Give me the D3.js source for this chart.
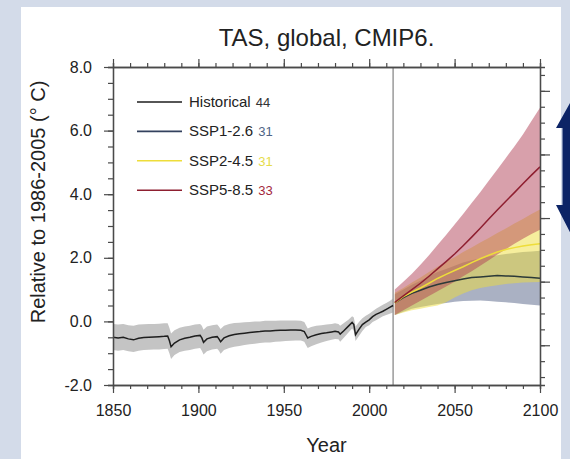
<!DOCTYPE html>
<html>
<head>
<meta charset="utf-8">
<script src="https://cdn.jsdelivr.net/npm/d3@7"></script>
<style>
  body { margin: 0; background: #d3dbe9; }
  svg { display: block; font-family: "Liberation Sans", Arial, sans-serif; }
</style>
</head>
<body>
<div id="vis"></div>
<script>
const FRAME_WIDTH = 570;
const FRAME_HEIGHT = 459;
const MARGINS = {left: 113, right: 30, top: 67, bottom: 74};

// historical run, 1850-2014
const histYears = [1850,1853,1856,1859,1862,1865,1868,1871,1874,1877,1880,1882,1883,1884,1886,1889,1892,1895,1898,1901,1902,1903,1905,1908,1911,1912,1913,1915,1918,1921,1924,1927,1930,1933,1936,1939,1942,1945,1948,1951,1954,1957,1960,1962,1963,1964,1966,1969,1972,1975,1978,1980,1982,1983,1985,1988,1990,1991,1992,1994,1996,1998,2000,2002,2004,2006,2008,2010,2012,2014];
const histMean = [-0.50,-0.52,-0.50,-0.55,-0.58,-0.53,-0.51,-0.50,-0.49,-0.48,-0.47,-0.46,-0.60,-0.80,-0.68,-0.58,-0.53,-0.50,-0.46,-0.44,-0.52,-0.66,-0.55,-0.50,-0.48,-0.55,-0.64,-0.52,-0.45,-0.41,-0.39,-0.37,-0.35,-0.33,-0.32,-0.30,-0.30,-0.29,-0.28,-0.28,-0.27,-0.27,-0.28,-0.32,-0.42,-0.52,-0.47,-0.42,-0.38,-0.36,-0.33,-0.31,-0.33,-0.40,-0.30,-0.14,-0.03,-0.10,-0.42,-0.25,-0.10,-0.02,0.05,0.15,0.22,0.27,0.32,0.38,0.44,0.50];
const histHigh = [-0.08,-0.10,-0.08,-0.12,-0.14,-0.10,-0.09,-0.08,-0.08,-0.07,-0.06,-0.06,-0.20,-0.38,-0.28,-0.20,-0.16,-0.14,-0.10,-0.08,-0.14,-0.26,-0.16,-0.12,-0.10,-0.16,-0.24,-0.14,-0.08,-0.05,-0.04,-0.03,-0.02,0.00,0.00,0.02,0.02,0.02,0.03,0.03,0.03,0.03,0.02,-0.02,-0.12,-0.22,-0.18,-0.14,-0.12,-0.10,-0.08,-0.06,-0.08,-0.14,-0.06,0.06,0.16,0.12,-0.16,-0.02,0.10,0.18,0.24,0.32,0.40,0.46,0.52,0.58,0.64,0.72];
const histLow = [-0.90,-0.92,-0.90,-0.94,-0.96,-0.92,-0.90,-0.89,-0.88,-0.88,-0.87,-0.86,-1.00,-1.18,-1.06,-0.96,-0.92,-0.90,-0.86,-0.84,-0.92,-1.04,-0.94,-0.88,-0.86,-0.92,-1.02,-0.90,-0.84,-0.80,-0.77,-0.74,-0.72,-0.70,-0.68,-0.66,-0.66,-0.64,-0.63,-0.62,-0.61,-0.60,-0.60,-0.64,-0.74,-0.84,-0.78,-0.72,-0.66,-0.62,-0.58,-0.55,-0.56,-0.64,-0.52,-0.34,-0.22,-0.30,-0.62,-0.46,-0.30,-0.18,-0.12,-0.02,0.04,0.10,0.16,0.20,0.24,0.28];

// scenario runs, 2015-2100
const projYears = [2015,2020,2025,2030,2035,2040,2045,2050,2055,2060,2065,2070,2075,2080,2085,2090,2095,2100];
const ssp126Mean = [0.58,0.75,0.88,0.98,1.08,1.16,1.22,1.28,1.33,1.38,1.40,1.42,1.44,1.43,1.42,1.40,1.38,1.36];
const ssp126High = [0.85,1.00,1.15,1.28,1.42,1.55,1.65,1.75,1.85,1.92,1.98,2.04,2.08,2.12,2.15,2.18,2.20,2.22];
const ssp126Low = [0.20,0.30,0.40,0.45,0.50,0.55,0.58,0.62,0.64,0.65,0.66,0.64,0.62,0.60,0.58,0.55,0.52,0.50];
const ssp245Mean = [0.58,0.78,0.92,1.05,1.20,1.35,1.48,1.60,1.72,1.85,1.97,2.08,2.18,2.26,2.32,2.37,2.41,2.44];
const ssp245High = [0.90,1.05,1.22,1.38,1.55,1.72,1.88,2.02,2.18,2.32,2.48,2.62,2.78,2.92,3.08,3.22,3.38,3.52];
const ssp245Low = [0.20,0.28,0.35,0.40,0.45,0.50,0.60,0.75,0.88,0.98,1.05,1.10,1.14,1.18,1.20,1.22,1.23,1.24];
const ssp585Mean = [0.60,0.80,1.00,1.20,1.42,1.65,1.88,2.12,2.38,2.65,2.93,3.22,3.50,3.78,4.05,4.33,4.60,4.86];
const ssp585High = [1.00,1.25,1.50,1.78,2.08,2.40,2.72,3.05,3.38,3.72,4.06,4.42,4.78,5.14,5.50,5.88,6.30,6.72];
const ssp585Low = [0.20,0.35,0.50,0.65,0.80,0.95,1.10,1.25,1.42,1.58,1.75,1.92,2.10,2.27,2.44,2.60,2.75,2.88];

// legend
const legendNames = ["Historical", "SSP1-2.6", "SSP2-4.5", "SSP5-8.5"];
const legendCounts = ["44", "31", "31", "33"];
const lineColors = ["#1e1e1e", "#33415e", "#eedd3a", "#8e1f30"];
const countColors = ["#333333", "#4f6585", "#e6dc4a", "#a3283c"];

// ticks
const yMajor = [-2, 0, 2, 4, 6, 8];
const xMajor = [1850, 1900, 1950, 2000, 2050, 2100];
const splitYear = 2014;

const FRAME = d3.select("#vis")
  .append("svg")
    .attr("width", FRAME_WIDTH)
    .attr("height", FRAME_HEIGHT);

// white panel
FRAME.append("rect")
  .attr("x", 21).attr("y", 7)
  .attr("width", 540).attr("height", 460)
  .attr("fill", "#ffffff");

const X_SCALE = d3.scaleLinear()
  .domain([1850, 2100])
  .range([MARGINS.left, FRAME_WIDTH - MARGINS.right]);

const Y_SCALE = d3.scaleLinear()
  .domain([-2, 8])
  .range([FRAME_HEIGHT - MARGINS.bottom, MARGINS.top]);

// right axis is offset by 0.75 (unlabelled)
const Y_RIGHT = d3.scaleLinear()
  .domain([-1.25, 8.75])
  .range([FRAME_HEIGHT - MARGINS.bottom, MARGINS.top]);

const hist = d3.zip(histYears, histMean, histLow, histHigh);
const runs = [
  d3.zip(projYears, ssp126Mean, ssp126Low, ssp126High),
  d3.zip(projYears, ssp245Mean, ssp245Low, ssp245High),
  d3.zip(projYears, ssp585Mean, ssp585Low, ssp585High)
];
const bandFills = ["rgb(85,100,135)", "rgb(238,222,60)", "rgb(178,66,88)"];

const area = d3.area()
  .x(d => X_SCALE(d[0]))
  .y0(d => Y_SCALE(d[2]))
  .y1(d => Y_SCALE(d[3]));

const line = d3.line()
  .x(d => X_SCALE(d[0]))
  .y(d => Y_SCALE(d[1]));

FRAME.append("path")
  .datum(hist)
  .attr("d", area)
  .attr("fill", "#c4c4c4");

runs.forEach((r, i) => {
  FRAME.append("path")
    .datum(r)
    .attr("d", area)
    .attr("fill", bandFills[i])
    .attr("fill-opacity", 0.5);
});

FRAME.append("line")
  .attr("x1", X_SCALE(splitYear)).attr("x2", X_SCALE(splitYear))
  .attr("y1", Y_SCALE(8)).attr("y2", Y_SCALE(-2))
  .attr("stroke", "#9a9a9a")
  .attr("stroke-width", 1.5);

FRAME.append("path")
  .datum(hist)
  .attr("d", line)
  .attr("fill", "none")
  .attr("stroke", lineColors[0])
  .attr("stroke-width", 1.5);

runs.forEach((r, i) => {
  FRAME.append("path")
    .datum(r)
    .attr("d", line)
    .attr("fill", "none")
    .attr("stroke", i == 0 ? "#2c3a38" : lineColors[i + 1])
    .attr("stroke-width", 1.5);
});

// axes
function styleAxis(g) {
  g.selectAll("path").attr("stroke", "#4a4a4a").attr("stroke-width", 1.3);
  g.selectAll("line").attr("stroke", "#4a4a4a").attr("stroke-width", 1.2);
  g.selectAll("text").attr("fill", "#222").style("font-size", "16px")
    .style("font-family", "'Liberation Sans', Arial, sans-serif");
}

const xMinor = d3.range(1850, 2101, 10);
const yMinor = d3.range(-2, 8.01, 0.5);
const yRightMinor = d3.range(-1, 8.51, 0.5);
const fmtY = d => d3.format(".1f")(d).replace("\u2212", "-");

const bottomY = Y_SCALE(-2);
const topY = Y_SCALE(8);

// minor ticks
FRAME.append("g").attr("transform", `translate(0,${bottomY})`)
  .call(d3.axisBottom(X_SCALE).tickValues(xMinor).tickSize(4).tickFormat(""))
  .call(styleAxis);
FRAME.append("g").attr("transform", `translate(0,${topY})`)
  .call(d3.axisTop(X_SCALE).tickValues(xMinor).tickSize(4).tickFormat(""))
  .call(styleAxis);
FRAME.append("g").attr("transform", `translate(${MARGINS.left},0)`)
  .call(d3.axisLeft(Y_SCALE).tickValues(yMinor).tickSize(5).tickFormat(""))
  .call(styleAxis);
FRAME.append("g").attr("transform", `translate(${X_SCALE(2100)},0)`)
  .call(d3.axisRight(Y_RIGHT).tickValues(yRightMinor).tickSize(5).tickFormat(""))
  .call(styleAxis);

// major ticks + labels
FRAME.append("g").attr("transform", `translate(0,${bottomY})`)
  .call(d3.axisBottom(X_SCALE).tickValues(xMajor).tickSize(8).tickSizeOuter(0)
    .tickPadding(12).tickFormat(d3.format("d")))
  .call(styleAxis);
FRAME.append("g").attr("transform", `translate(0,${topY})`)
  .call(d3.axisTop(X_SCALE).tickValues(xMajor).tickSize(8).tickSizeOuter(0).tickFormat(""))
  .call(styleAxis);
FRAME.append("g").attr("transform", `translate(${MARGINS.left},0)`)
  .call(d3.axisLeft(Y_SCALE).tickValues(yMajor).tickSize(9).tickSizeOuter(0)
    .tickPadding(12).tickFormat(fmtY))
  .call(styleAxis);
FRAME.append("g").attr("transform", `translate(${X_SCALE(2100)},0)`)
  .call(d3.axisRight(Y_RIGHT).tickValues([0, 2, 4, 6, 8]).tickSize(10).tickSizeOuter(0).tickFormat(""))
  .call(styleAxis);

// titles
FRAME.append("text")
  .attr("x", X_SCALE(1975)).attr("y", 46)
  .attr("text-anchor", "middle")
  .style("font-size", "24px")
  .attr("fill", "#222")
  .text("TAS, global, CMIP6.");

FRAME.append("text")
  .attr("x", X_SCALE(1975)).attr("y", 452)
  .attr("text-anchor", "middle")
  .style("font-size", "20px")
  .attr("fill", "#222")
  .text("Year");

FRAME.append("text")
  .attr("transform", "translate(45,202) rotate(-90)")
  .attr("text-anchor", "middle")
  .style("font-size", "20px")
  .attr("fill", "#222")
  .text("Relative to 1986-2005 (° C)");

// legend
const LEGEND = FRAME.append("g");
legendNames.forEach((name, i) => {
  const ly = 102 + i * 29.4;
  LEGEND.append("line")
    .attr("x1", 137).attr("x2", 182)
    .attr("y1", ly).attr("y2", ly)
    .attr("stroke", lineColors[i])
    .attr("stroke-width", 1.6);
  const t = LEGEND.append("text")
    .attr("x", 189).attr("y", ly + 5)
    .style("font-size", "15px")
    .attr("fill", "#222")
    .text(name);
  const w = t.node().getComputedTextLength();
  LEGEND.append("text")
    .attr("x", 189 + w + 5).attr("y", ly + 5)
    .style("font-size", "13px")
    .attr("fill", countColors[i])
    .text(legendCounts[i]);
});

// blue double arrow on the right edge
FRAME.append("path")
  .attr("d", "M575,94 L594,128 L587.5,128 L587.5,205 L594,205 L575,242 L556,205 L562.5,205 L562.5,128 L556,128 Z")
  .attr("fill", "#0c2466");
</script>
</body>
</html>
